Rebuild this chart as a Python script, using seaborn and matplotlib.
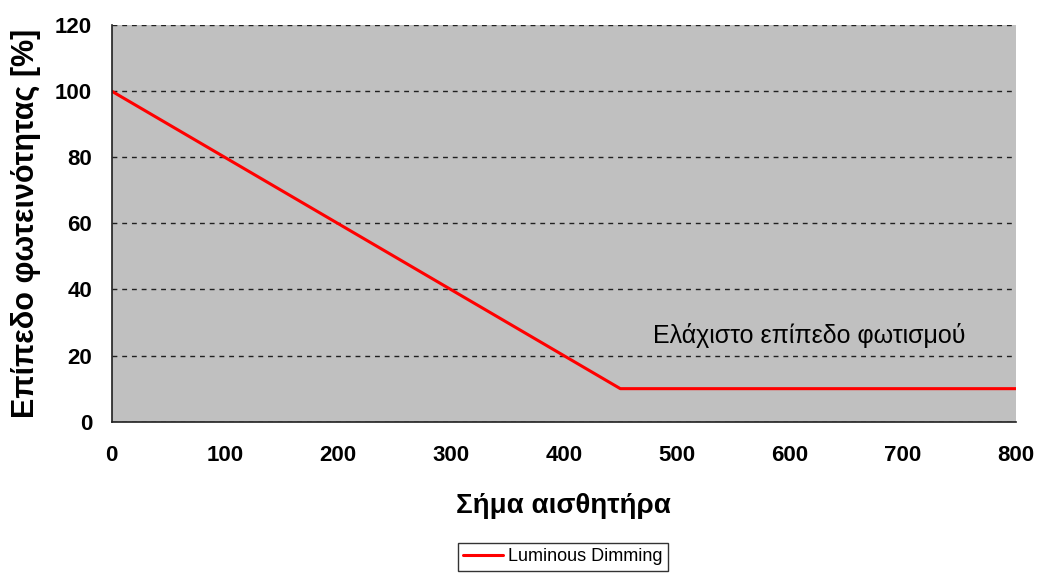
import matplotlib
matplotlib.use("Agg")
import matplotlib.pyplot as plt
import seaborn as sns
import pandas as pd

# Dimming curve: brightness level vs. sensor signal
sensor_signal = [0, 450, 800]
brightness = [100, 10, 10]
series_name = "Luminous Dimming"

x_ticks = [0, 100, 200, 300, 400, 500, 600, 700, 800]
y_ticks = [0, 20, 40, 60, 80, 100, 120]

x_label = "Σήμα αισθητήρα"
y_label = "Επίπεδο φωτεινότητας [%]"
note_text = "Ελάχιστο επίπεδο φωτισμού"

sns.set_style("white")
plt.rcParams["font.family"] = ["Liberation Sans", "DejaVu Sans"]

df = pd.DataFrame({"signal": sensor_signal, "level": brightness, "series": series_name})

fig = plt.figure(figsize=(10.37, 5.74), dpi=100)
ax = fig.add_axes([0.1077, 0.2653, 0.9797 - 0.1077, 0.9564 - 0.2653])
ax.set_facecolor("#C0C0C0")

sns.lineplot(data=df, x="signal", y="level", hue="series", palette=["#FF0000"],
             linewidth=2.2, ax=ax, legend=True)

ax.set_xlim(0, 800)
ax.set_ylim(0, 120)
ax.set_xticks(x_ticks)
ax.set_yticks(y_ticks)

ax.yaxis.grid(True, linestyle=(0, (3.5, 3.5)), color="#202020", linewidth=1.0)
ax.xaxis.grid(False)
ax.set_axisbelow(True)

for side in ["top", "right"]:
    ax.spines[side].set_visible(False)
for side in ["left", "bottom"]:
    ax.spines[side].set_color("#202020")
    ax.spines[side].set_linewidth(1.2)

ax.tick_params(axis="x", which="major", direction="out", length=6, width=1.2,
               color="#202020", labelsize=16, pad=11, labelcolor="black")
ax.tick_params(axis="y", which="major", direction="out", length=6, width=1.2,
               color="#202020", labelsize=16, pad=8, labelcolor="black")
for lbl in ax.get_xticklabels() + ax.get_yticklabels():
    lbl.set_fontweight("bold")

ax.set_xlabel(x_label, fontsize=20, fontweight="bold", labelpad=19, color="black")
ax.set_ylabel(y_label, fontsize=22, fontweight="bold", labelpad=10, color="black")

ax.text(617, 26, note_text, fontsize=18, ha="center", va="center", color="#000000")

leg = ax.legend(loc="upper center", bbox_to_anchor=(0.543, 0.0545),
                bbox_transform=fig.transFigure, frameon=True, fancybox=False,
                fontsize=13, handlelength=2.2, handletextpad=0.3,
                borderpad=0.3, borderaxespad=0)
leg.get_frame().set_edgecolor("#000000")
leg.get_frame().set_linewidth(1.0)
for t in leg.get_texts():
    t.set_color("black")

fig.savefig("out.png", dpi=100, facecolor="white")
